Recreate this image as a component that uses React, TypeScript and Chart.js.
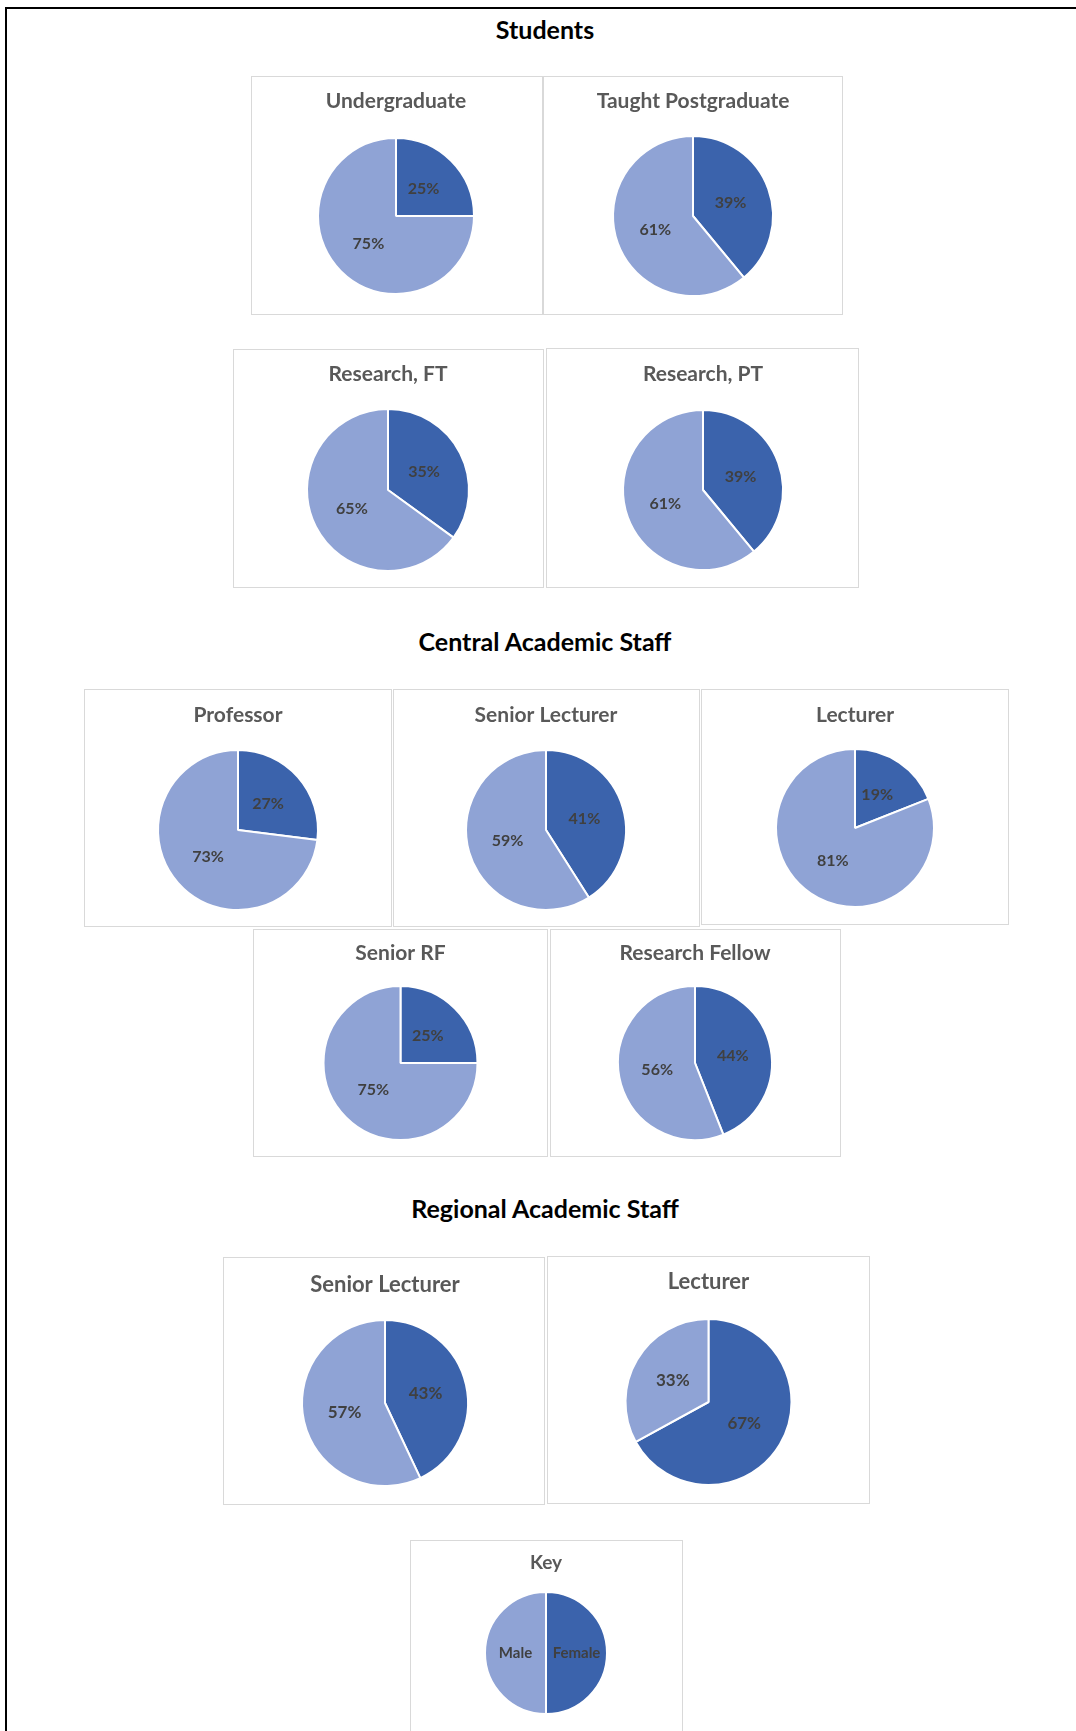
import React, { useEffect, useRef } from "react";
import { Chart, registerables } from "chart.js";

Chart.register(...registerables);

// ---------- data ----------
const sectionTitles = ["Students", "Central Academic Staff", "Regional Academic Staff"];
const panelTitles = [
  "Undergraduate",
  "Taught Postgraduate",
  "Research, FT",
  "Research, PT",
  "Professor",
  "Senior Lecturer",
  "Lecturer",
  "Senior RF",
  "Research Fellow",
  "Senior Lecturer",
  "Lecturer",
];
const seriesLabels = ["Female", "Male"];
const femalePct = [25, 39, 35, 39, 27, 41, 19, 25, 44, 43, 67];
const malePct = [75, 61, 65, 61, 73, 59, 81, 75, 56, 57, 33];
const keyTitle = "Key";
const keyValues = [50, 50];

// ---------- styles / layout ----------
const FEMALE = "#3B63AC";
const MALE = "#8FA3D5";
const FONT = "Lato, 'Open Sans', sans-serif";

const sectionLayout = [
  { cy: 29, size: 25 },
  { cy: 641, size: 25 },
  { cy: 1208, size: 25 },
];

const panelLayout = [
  { x: 251, y: 76, w: 292, h: 239, ty: 101.5, cx: 396, cy: 216, r: 78, fs: 21 },
  { x: 543, y: 76, w: 300, h: 239, ty: 101.5, cx: 693, cy: 216, r: 80, fs: 21 },
  { x: 233, y: 349, w: 311, h: 239, ty: 374, cx: 388, cy: 490, r: 81, fs: 21 },
  { x: 546, y: 348, w: 313, h: 240, ty: 374, cx: 703, cy: 490, r: 80, fs: 21 },
  { x: 84, y: 689, w: 308, h: 238, ty: 715, cx: 238, cy: 830, r: 80, fs: 21 },
  { x: 393, y: 689, w: 307, h: 238, ty: 715, cx: 546, cy: 830, r: 80, fs: 21 },
  { x: 701, y: 689, w: 308, h: 236, ty: 715, cx: 855, cy: 828, r: 79, fs: 21 },
  { x: 253, y: 929, w: 295, h: 228, ty: 953.5, cx: 400.5, cy: 1063, r: 77, fs: 21 },
  { x: 550, y: 929, w: 291, h: 228, ty: 953.5, cx: 695, cy: 1063, r: 77, fs: 21 },
  { x: 223, y: 1257, w: 322, h: 248, ty: 1284.5, cx: 385, cy: 1403, r: 83, fs: 22 },
  { x: 547, y: 1256, w: 323, h: 248, ty: 1282, cx: 708.5, cy: 1402, r: 83, fs: 22 },
];
const keyLayout = { x: 410, y: 1540, w: 273, h: 191, ty: 1563, cx: 546, cy: 1653, r: 61, fs: 19, open: true };

const sliceLabelPlugin = {
  id: "sliceLabels",
  afterDatasetsDraw(chart: any, _args: any, opts: any) {
    const ctx = chart.ctx;
    const meta = chart.getDatasetMeta(0);
    ctx.save();
    ctx.font = `bold ${opts.size}px ${FONT}`;
    ctx.fillStyle = "#404040";
    ctx.textAlign = "center";
    ctx.textBaseline = "middle";
    meta.data.forEach((arc: any, i: number) => {
      const p = arc.tooltipPosition(false);
      ctx.fillText(opts.texts[i], p.x, p.y);
    });
    ctx.restore();
  },
};

type Box = { x: number; y: number; w: number; h: number; ty: number; cx: number; cy: number; r: number; fs: number; open?: boolean };

function PiePanel({ title, values, texts, box, labelSize }: { title: string; values: number[]; texts: string[]; box: Box; labelSize: number }) {
  const ref = useRef<HTMLCanvasElement | null>(null);
  const cw = box.w - 2;
  const ch = box.open ? box.h - 1 : box.h - 2;
  useEffect(() => {
    if (!ref.current) return;
    const lineH = box.fs * 1.2;
    const tyRel = box.ty - box.y - 1;
    const cxRel = box.cx - box.x - 1;
    const cyRel = box.cy - box.y - 1;
    const padTop = tyRel - lineH / 2;
    const T0 = padTop + lineH;
    const D = 2 * cyRel - ch - T0;
    const extra = D >= 0 ? D : 0;
    const padBottom = D < 0 ? -D : 0;
    const H = 2 * cxRel - cw;
    const padLeft = H >= 0 ? H : 0;
    const padRight = H < 0 ? -H : 0;
    const chart = new Chart(ref.current, {
      type: "pie",
      data: {
        labels: seriesLabels,
        datasets: [
          {
            data: values,
            backgroundColor: [FEMALE, MALE],
            borderColor: "#ffffff",
            borderWidth: 2,
            radius: box.r,
          } as any,
        ],
      },
      options: {
        responsive: false,
        animation: false,
        devicePixelRatio: 1,
        layout: { padding: { top: 0, bottom: padBottom, left: padLeft, right: padRight } },
        plugins: {
          legend: { display: false },
          tooltip: { enabled: false },
          title: {
            display: true,
            text: title,
            color: "#595959",
            font: { family: FONT, size: box.fs, weight: "bold", lineHeight: 1.2 },
            padding: { top: padTop, bottom: extra },
          },
          sliceLabels: { texts, size: labelSize },
        } as any,
      },
      plugins: [sliceLabelPlugin as any],
    });
    return () => chart.destroy();
  }, []);
  return (
    <div
      style={{
        position: "absolute",
        left: box.x,
        top: box.y,
        width: box.w,
        height: box.h,
        boxSizing: "border-box",
        border: "1px solid #d9d9d9",
        borderBottom: box.open ? "none" : "1px solid #d9d9d9",
        background: "#fff",
      }}
    >
      <canvas ref={ref} width={cw} height={ch} style={{ display: "block", width: cw, height: ch }} />
    </div>
  );
}

export default function App() {
  return (
    <div style={{ position: "relative", width: 1076, height: 1731, overflow: "hidden", background: "#fff", fontFamily: FONT }}>
      <style>{`html,body{margin:0;padding:0;overflow:hidden;background:#fff}`}</style>
      <div
        style={{
          position: "absolute",
          left: 5,
          top: 7,
          width: 1200,
          height: 1800,
          borderLeft: "2px solid #000",
          borderTop: "2px solid #000",
        }}
      />
      {sectionTitles.map((t, i) => (
        <div
          key={t}
          style={{
            position: "absolute",
            left: 0,
            width: 1090,
            top: sectionLayout[i].cy - 16,
            height: 32,
            lineHeight: "32px",
            textAlign: "center",
            fontWeight: "bold",
            fontSize: sectionLayout[i].size,
            color: "#000",
          }}
        >
          {t}
        </div>
      ))}
      {panelTitles.map((t, i) => (
        <PiePanel
          key={i}
          title={t}
          values={[femalePct[i], malePct[i]]}
          texts={[`${femalePct[i]}%`, `${malePct[i]}%`]}
          box={panelLayout[i]}
          labelSize={i >= 9 ? 17 : 16}
        />
      ))}
      <PiePanel title={keyTitle} values={keyValues} texts={seriesLabels} box={keyLayout} labelSize={15} />
    </div>
  );
}
